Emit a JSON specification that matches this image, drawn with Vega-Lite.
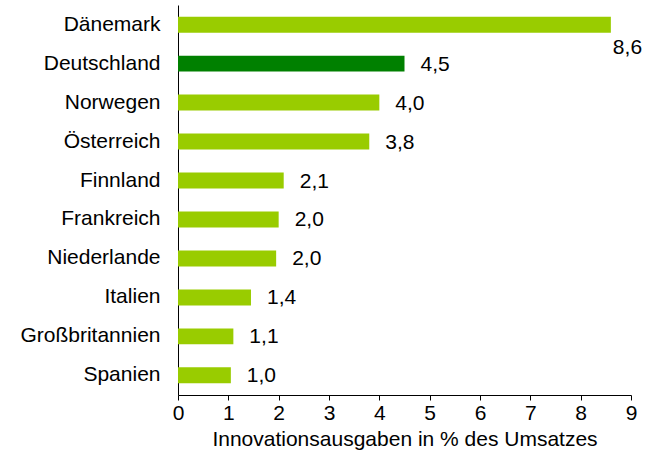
{
  "$schema": "https://vega.github.io/schema/vega-lite/v6.json",
  "autosize": {"type": "none"},
  "padding": {"left": 178, "top": 5, "right": 22, "bottom": 62},
  "width": 453,
  "height": 390,
  "background": "white",
  "data": {"values": [
    {"land": "Dänemark", "wert": 8.6, "label": "8,6", "hl": "n"},
    {"land": "Deutschland", "wert": 4.5, "label": "4,5", "hl": "y"},
    {"land": "Norwegen", "wert": 4.0, "label": "4,0", "hl": "n"},
    {"land": "Österreich", "wert": 3.8, "label": "3,8", "hl": "n"},
    {"land": "Finnland", "wert": 2.1, "label": "2,1", "hl": "n"},
    {"land": "Frankreich", "wert": 2.0, "label": "2,0", "hl": "n"},
    {"land": "Niederlande", "wert": 1.95, "label": "2,0", "hl": "n"},
    {"land": "Italien", "wert": 1.45, "label": "1,4", "hl": "n"},
    {"land": "Großbritannien", "wert": 1.1, "label": "1,1", "hl": "n"},
    {"land": "Spanien", "wert": 1.05, "label": "1,0", "hl": "n"}
  ]},
  "encoding": {
    "y": {"field": "land", "type": "nominal", "sort": null,
      "scale": {"paddingInner": 0.59, "paddingOuter": 0.3},
      "axis": {"title": null, "ticks": false, "domainColor": "black", "domainWidth": 1,
        "labelFont": "Liberation Sans", "labelFontSize": 21, "labelColor": "black", "labelPadding": 18, "labelOverlap": false}},
    "x": {"field": "wert", "type": "quantitative",
      "scale": {"domain": [0, 9], "nice": false},
      "axis": {"title": "Innovationsausgaben in % des Umsatzes", "values": [0,1,2,3,4,5,6,7,8,9],
        "grid": false, "domainColor": "black", "tickColor": "black", "tickSize": 5, "labelOverlap": false, "labelFlush": false,
        "labelFont": "Liberation Sans", "labelFontSize": 21, "labelColor": "black", "labelPadding": 2,
        "titleFont": "Liberation Sans", "titleFontSize": 21, "titleFontWeight": "normal", "titleColor": "black", "titlePadding": 5}}
  },
  "layer": [
    {"mark": {"type": "bar"},
     "encoding": {"color": {"field": "hl", "type": "nominal", "scale": {"domain": ["n", "y"], "range": ["#99cc00", "#008000"]}, "legend": null}}},
    {"transform": [{"filter": "datum.land !== 'Dänemark'"}],
     "mark": {"type": "text", "align": "left", "dx": 16, "dy": 1, "font": "Liberation Sans", "fontSize": 21, "color": "black"},
     "encoding": {"text": {"field": "label"}}},
    {"transform": [{"filter": "datum.land === 'Dänemark'"}],
     "mark": {"type": "text", "align": "left", "dx": 2, "dy": 23, "font": "Liberation Sans", "fontSize": 21, "color": "black"},
     "encoding": {"text": {"field": "label"}}}
  ],
  "config": {"view": {"stroke": null}}
}
